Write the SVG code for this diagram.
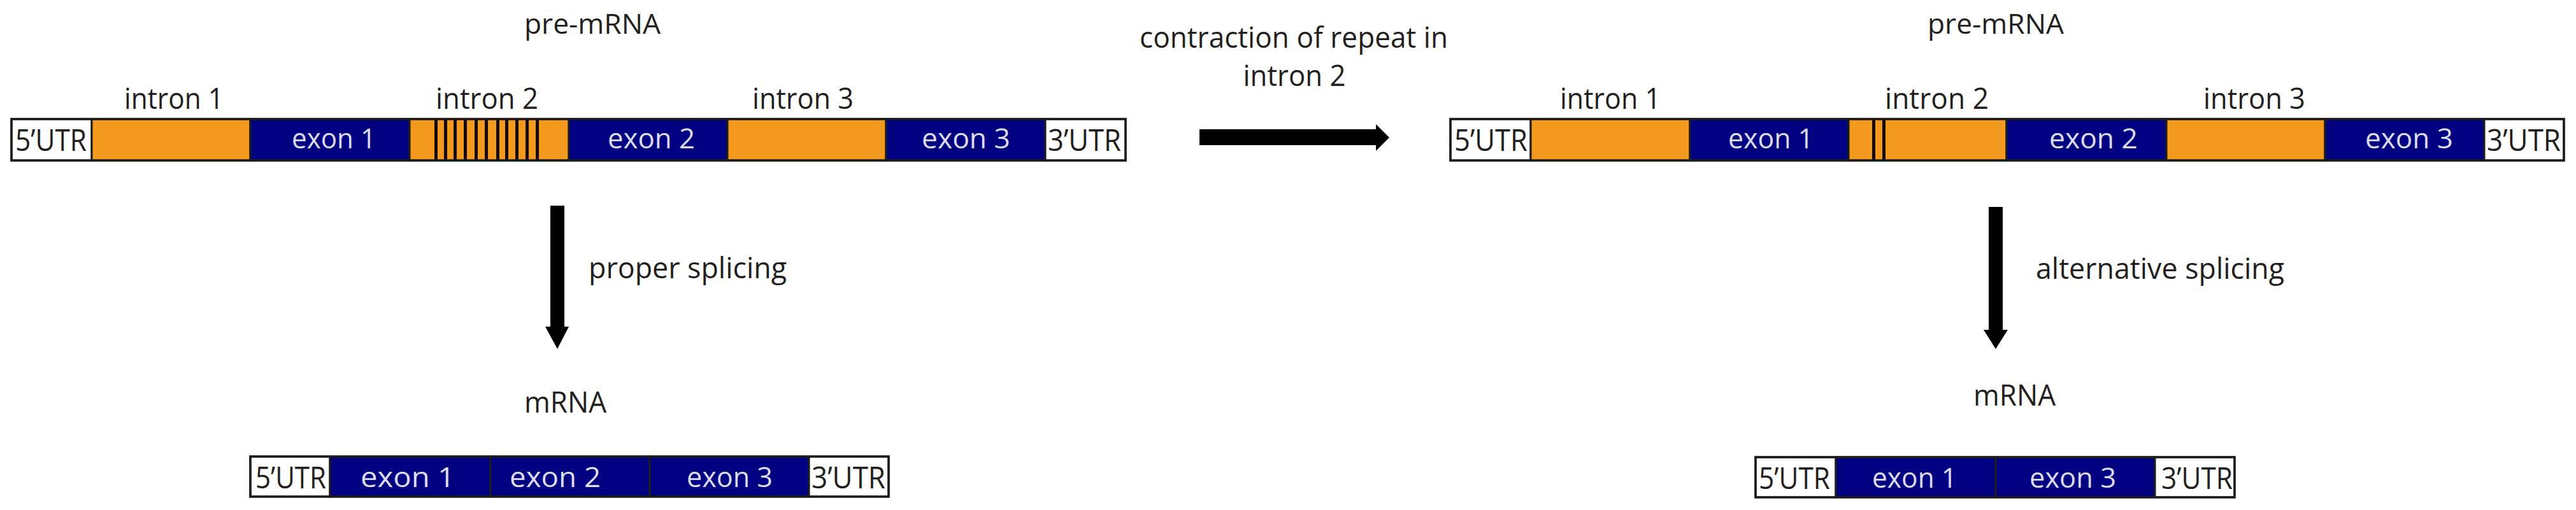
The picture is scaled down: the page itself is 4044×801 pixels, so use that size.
<svg xmlns="http://www.w3.org/2000/svg" width="4044" height="801" viewBox="0 0 4044 801">
<style>
text{font-family:"Open Sans","Noto Sans","DejaVu Sans",sans-serif}
.lbl{fill:#231f20;font-size:46px}
.ex{fill:#dcdcf4;font-size:44px}
.utr{fill:#231f20;font-size:48px}
.seg{stroke:#1c1c1c;stroke-width:3}
.in{fill:#f39a1e}
.exb{fill:#000080}
.ub{fill:#ffffff}
.rep{fill:#140a00}
.arrow{fill:#000000}
</style>
<rect width="4044" height="801" fill="#ffffff"/>

<g id="label-pre-mRNA-left"><text class="lbl" x="823" y="53" textLength="214" lengthAdjust="spacingAndGlyphs" style="font-size:44px">pre-mRNA</text></g>
<g id="label-pre-mRNA-right"><text class="lbl" x="3026" y="53" textLength="214" lengthAdjust="spacingAndGlyphs" style="font-size:44px">pre-mRNA</text></g>

<g id="pre-mRNA-normal">
<rect class="seg ub" x="18" y="187" width="126" height="65"/>
<rect class="seg in" x="144" y="187" width="249" height="65"/>
<rect class="seg exb" x="393" y="187" width="250" height="65"/>
<rect class="seg in" x="643" y="187" width="250" height="65"/>
<rect class="seg exb" x="893" y="187" width="249" height="65"/>
<rect class="seg in" x="1142" y="187" width="249" height="65"/>
<rect class="seg exb" x="1391" y="187" width="250" height="65"/>
<rect class="seg ub" x="1641" y="187" width="126" height="65"/>
<g id="repeats-normal">
<rect class="rep" x="682" y="188" width="5" height="63"/>
<rect class="rep" x="697" y="188" width="5" height="63"/>
<rect class="rep" x="712" y="188" width="5" height="63"/>
<rect class="rep" x="728" y="188" width="5" height="63"/>
<rect class="rep" x="745" y="188" width="5" height="63"/>
<rect class="rep" x="761" y="188" width="5" height="63"/>
<rect class="rep" x="779" y="188" width="5" height="63"/>
<rect class="rep" x="793" y="188" width="5" height="63"/>
<rect class="rep" x="809" y="188" width="5" height="63"/>
<rect class="rep" x="825" y="188" width="5" height="63"/>
<rect class="rep" x="841" y="188" width="5" height="63"/>
</g>
<rect x="18" y="187" width="1749" height="65" fill="none" stroke="#1c1c1c" stroke-width="3.5"/>
<text class="lbl" x="195" y="171" textLength="156" lengthAdjust="spacingAndGlyphs">intron 1</text>
<text class="lbl" x="684" y="171" textLength="161" lengthAdjust="spacingAndGlyphs">intron 2</text>
<text class="lbl" x="1181" y="171" textLength="159" lengthAdjust="spacingAndGlyphs">intron 3</text>
<text class="utr" x="24" y="237" textLength="112" lengthAdjust="spacingAndGlyphs">5’UTR</text>
<text class="ex" x="458" y="233" textLength="132" lengthAdjust="spacingAndGlyphs">exon 1</text>
<text class="ex" x="954" y="233" textLength="137" lengthAdjust="spacingAndGlyphs">exon 2</text>
<text class="ex" x="1447" y="233" textLength="139" lengthAdjust="spacingAndGlyphs">exon 3</text>
<text class="utr" x="1645" y="237" textLength="115" lengthAdjust="spacingAndGlyphs">3’UTR</text>
</g>

<g id="pre-mRNA-contracted">
<rect class="seg ub" x="2277" y="187" width="126" height="65"/>
<rect class="seg in" x="2403" y="187" width="250" height="65"/>
<rect class="seg exb" x="2653" y="187" width="249" height="65"/>
<rect class="seg in" x="2902" y="187" width="248" height="65"/>
<rect class="seg exb" x="3150" y="187" width="251" height="65"/>
<rect class="seg in" x="3401" y="187" width="249" height="65"/>
<rect class="seg exb" x="3650" y="187" width="250" height="65"/>
<rect class="seg ub" x="3900" y="187" width="125" height="65"/>
<g id="repeats-contracted">
<rect class="rep" x="2939" y="188" width="5" height="63"/>
<rect class="rep" x="2955" y="188" width="5" height="63"/>
</g>
<rect x="2277" y="187" width="1748" height="65" fill="none" stroke="#1c1c1c" stroke-width="3.5"/>
<text class="lbl" x="2449" y="171" textLength="158" lengthAdjust="spacingAndGlyphs">intron 1</text>
<text class="lbl" x="2959" y="171" textLength="163" lengthAdjust="spacingAndGlyphs">intron 2</text>
<text class="lbl" x="3459" y="171" textLength="160" lengthAdjust="spacingAndGlyphs">intron 3</text>
<text class="utr" x="2283" y="237" textLength="115" lengthAdjust="spacingAndGlyphs">5’UTR</text>
<text class="ex" x="2713" y="233" textLength="134" lengthAdjust="spacingAndGlyphs">exon 1</text>
<text class="ex" x="3217" y="233" textLength="139" lengthAdjust="spacingAndGlyphs">exon 2</text>
<text class="ex" x="3713" y="233" textLength="138" lengthAdjust="spacingAndGlyphs">exon 3</text>
<text class="utr" x="3904" y="237" textLength="116" lengthAdjust="spacingAndGlyphs">3’UTR</text>
</g>

<g id="label-contraction">
<text class="lbl" x="2031" y="75" text-anchor="middle" textLength="484" lengthAdjust="spacingAndGlyphs">contraction of repeat in</text>
<text class="lbl" x="2032" y="135" text-anchor="middle" textLength="161" lengthAdjust="spacingAndGlyphs">intron 2</text>
</g>

<g id="label-proper-splicing"><text class="lbl" x="924" y="437" textLength="311" lengthAdjust="spacingAndGlyphs">proper splicing</text></g>
<g id="label-alternative-splicing"><text class="lbl" x="3196" y="438" textLength="390" lengthAdjust="spacingAndGlyphs">alternative splicing</text></g>

<g id="label-mRNA-left"><text class="lbl" x="823" y="648" textLength="129" lengthAdjust="spacingAndGlyphs">mRNA</text></g>
<g id="label-mRNA-right"><text class="lbl" x="3098" y="637" textLength="129" lengthAdjust="spacingAndGlyphs">mRNA</text></g>

<g id="mRNA-proper">
<rect class="seg ub" x="393" y="717" width="125" height="63"/>
<rect class="seg exb" x="518" y="717" width="252" height="63"/>
<rect class="seg exb" x="770" y="717" width="250" height="63"/>
<rect class="seg exb" x="1020" y="717" width="250" height="63"/>
<rect class="seg ub" x="1270" y="717" width="125" height="63"/>
<rect x="393" y="717" width="1002" height="63" fill="none" stroke="#1c1c1c" stroke-width="3.5"/>
<text class="utr" x="401" y="767" textLength="111" lengthAdjust="spacingAndGlyphs">5’UTR</text>
<text class="ex" x="566" y="765" textLength="148" lengthAdjust="spacingAndGlyphs">exon 1</text>
<text class="ex" x="800" y="765" textLength="143" lengthAdjust="spacingAndGlyphs">exon 2</text>
<text class="ex" x="1078" y="765" textLength="135" lengthAdjust="spacingAndGlyphs">exon 3</text>
<text class="utr" x="1274" y="767" textLength="116" lengthAdjust="spacingAndGlyphs">3’UTR</text>
</g>

<g id="mRNA-alternative">
<rect class="seg ub" x="2756" y="718" width="126" height="63"/>
<rect class="seg exb" x="2882" y="718" width="251" height="63"/>
<rect class="seg exb" x="3133" y="718" width="250" height="63"/>
<rect class="seg ub" x="3383" y="718" width="125" height="63"/>
<rect x="2756" y="718" width="752" height="63" fill="none" stroke="#1c1c1c" stroke-width="3.5"/>
<text class="utr" x="2761" y="768" textLength="112" lengthAdjust="spacingAndGlyphs">5’UTR</text>
<text class="ex" x="2939" y="766" textLength="133" lengthAdjust="spacingAndGlyphs">exon 1</text>
<text class="ex" x="3186" y="766" textLength="136" lengthAdjust="spacingAndGlyphs">exon 3</text>
<text class="utr" x="3393" y="768" textLength="112" lengthAdjust="spacingAndGlyphs">3’UTR</text>
</g>

<g id="connectors">
<path class="arrow" d="M1883,203 H2160 V195 L2181,216 L2160,237 V228 H1883 Z"/>
<path class="arrow" d="M864,323 H886 V513 H893 L875,548 L856,513 H864 Z"/>
<path class="arrow" d="M3122,325 H3144 V518 H3152 L3133,548 L3114,518 H3122 Z"/>
</g>
</svg>
